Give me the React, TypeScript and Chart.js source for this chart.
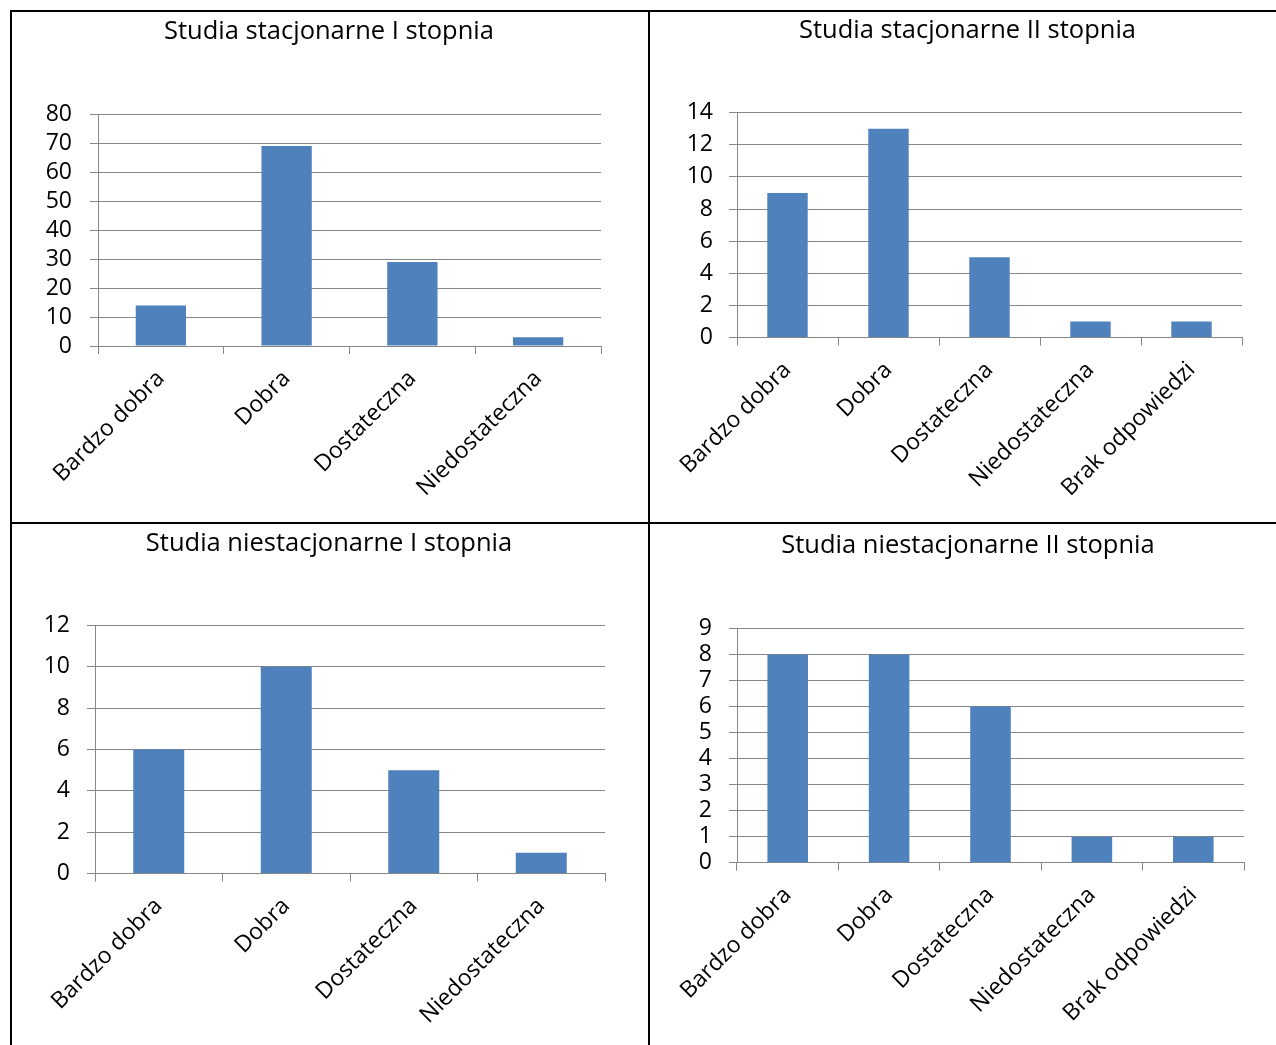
import React, { useEffect, useRef } from 'react';
import { Chart, registerables } from 'chart.js';

Chart.register(...registerables);

// ---- data ----
const categories4 = ['Bardzo dobra', 'Dobra', 'Dostateczna', 'Niedostateczna'];
const categories5 = ['Bardzo dobra', 'Dobra', 'Dostateczna', 'Niedostateczna', 'Brak odpowiedzi'];

const stacjonarneI = [14, 69, 29, 3];
const stacjonarneII = [9, 13, 5, 1, 1];
const niestacjonarneI = [6, 10, 5, 1];
const niestacjonarneII = [8, 8, 6, 1, 1];

const titleStacI = 'Studia stacjonarne I stopnia';
const titleStacII = 'Studia stacjonarne II stopnia';
const titleNiestacI = 'Studia niestacjonarne I stopnia';
const titleNiestacII = 'Studia niestacjonarne II stopnia';

const yMaxStacI = 80;
const yStepStacI = 10;
const yMaxStacII = 14;
const yStepStacII = 2;
const yMaxNiestacI = 12;
const yStepNiestacI = 2;
const yMaxNiestacII = 9;
const yStepNiestacII = 1;

// ---- styling ----
const FONT = '"Open Sans"';
const TITLE_SIZE = 25.5;
const TICK_SIZE = 23;
const BAR = '#4F81BD';
const GRID = '#878787';

type PanelCfg = {
  title: string;
  labels: string[];
  values: number[];
  yMax: number;
  yStep: number;
  left: number;
  top: number;
  width: number;
  height: number;
  padTop: number;
  padRight: number;
  yWidth: number;
  xHeight: number;
  yTickPad: number;
  titleX: number;
  titleTop: number;
};

const panels: PanelCfg[] = [
  {
    title: titleStacI, labels: categories4, values: stacjonarneI, yMax: yMaxStacI, yStep: yStepStacI,
    left: 12, top: 12, width: 636, height: 510,
    padTop: 102, padRight: 47, yWidth: 86, xHeight: 176, yTickPad: 18,
    titleX: 329, titleTop: 14,
  },
  {
    title: titleStacII, labels: categories5, values: stacjonarneII, yMax: yMaxStacII, yStep: yStepStacII,
    left: 650, top: 12, width: 626, height: 510,
    padTop: 100.7, padRight: 34, yWidth: 87, xHeight: 184.5, yTickPad: 16,
    titleX: 967.5, titleTop: 13,
  },
  {
    title: titleNiestacI, labels: categories4, values: niestacjonarneI, yMax: yMaxNiestacI, yStep: yStepNiestacI,
    left: 12, top: 524, width: 636, height: 521,
    padTop: 101.5, padRight: 43, yWidth: 83, xHeight: 171.5, yTickPad: 17,
    titleX: 329, titleTop: 526,
  },
  {
    title: titleNiestacII, labels: categories5, values: niestacjonarneII, yMax: yMaxNiestacII, yStep: yStepNiestacII,
    left: 650, top: 524, width: 626, height: 521,
    padTop: 104.5, padRight: 32, yWidth: 87, xHeight: 182.3, yTickPad: 17,
    titleX: 968, titleTop: 528,
  },
];

function Panel({ cfg }: { cfg: PanelCfg }) {
  const ref = useRef<HTMLCanvasElement | null>(null);
  useEffect(() => {
    if (!ref.current) return;
    const chart = new Chart(ref.current, {
      type: 'bar',
      data: {
        labels: cfg.labels,
        datasets: [
          {
            data: cfg.values,
            backgroundColor: BAR,
            borderWidth: 0,
            barPercentage: 0.4,
            categoryPercentage: 1,
          },
        ],
      },
      options: {
        responsive: false,
        animation: false,
        layout: { padding: { left: 0, right: cfg.padRight, top: cfg.padTop, bottom: 0 } },
        plugins: {
          legend: { display: false },
          tooltip: { enabled: false },
          title: { display: false },
        },
        scales: {
          x: {
            type: 'category',
            offset: true,
            grid: {
              display: true,
              drawOnChartArea: false,
              drawTicks: true,
              tickLength: 8,
              color: GRID,
              offset: true,
            },
            border: { display: true, color: GRID },
            ticks: {
              autoSkip: false,
              minRotation: 45,
              maxRotation: 45,
              color: '#000',
              font: { family: FONT, size: TICK_SIZE },
              padding: 11,
            },
            afterFit: (s: any) => {
              s.height = cfg.xHeight;
            },
          },
          y: {
            min: 0,
            max: cfg.yMax,
            ticks: {
              stepSize: cfg.yStep,
              autoSkip: false,
              color: '#000',
              font: { family: FONT, size: TICK_SIZE },
              padding: cfg.yTickPad,
            },
            grid: { color: GRID, tickLength: 8, drawTicks: true },
            border: { display: true, color: GRID },
            afterFit: (s: any) => {
              s.width = cfg.yWidth;
            },
          },
        },
      } as any,
    });
    return () => chart.destroy();
  }, [cfg]);
  return (
    <>
      <canvas
        ref={ref}
        width={cfg.width}
        height={cfg.height}
        style={{ position: 'absolute', left: cfg.left, top: cfg.top, width: cfg.width, height: cfg.height }}
      />
      <div
        style={{
          position: 'absolute',
          left: cfg.titleX - 300,
          width: 600,
          top: cfg.titleTop,
          height: 30,
          lineHeight: '30px',
          textAlign: 'center',
          fontFamily: FONT,
          fontSize: TITLE_SIZE,
          color: '#000',
          whiteSpace: 'nowrap',
        }}
      >
        {cfg.title}
      </div>
    </>
  );
}

export default function App() {
  const line = (l: number, t: number, w: number, h: number) => (
    <div style={{ position: 'absolute', left: l, top: t, width: w, height: h, background: '#000' }} />
  );
  return (
    <div style={{ position: 'absolute', left: 0, top: 0, width: 1276, height: 1045, background: '#fff', overflow: 'hidden' }}>
      {panels.map((p, i) => (
        <Panel key={i} cfg={p} />
      ))}
      {line(10, 10, 1266, 2)}
      {line(10, 10, 2, 1035)}
      {line(648, 10, 2, 1035)}
      {line(10, 522, 1266, 2)}
    </div>
  );
}
